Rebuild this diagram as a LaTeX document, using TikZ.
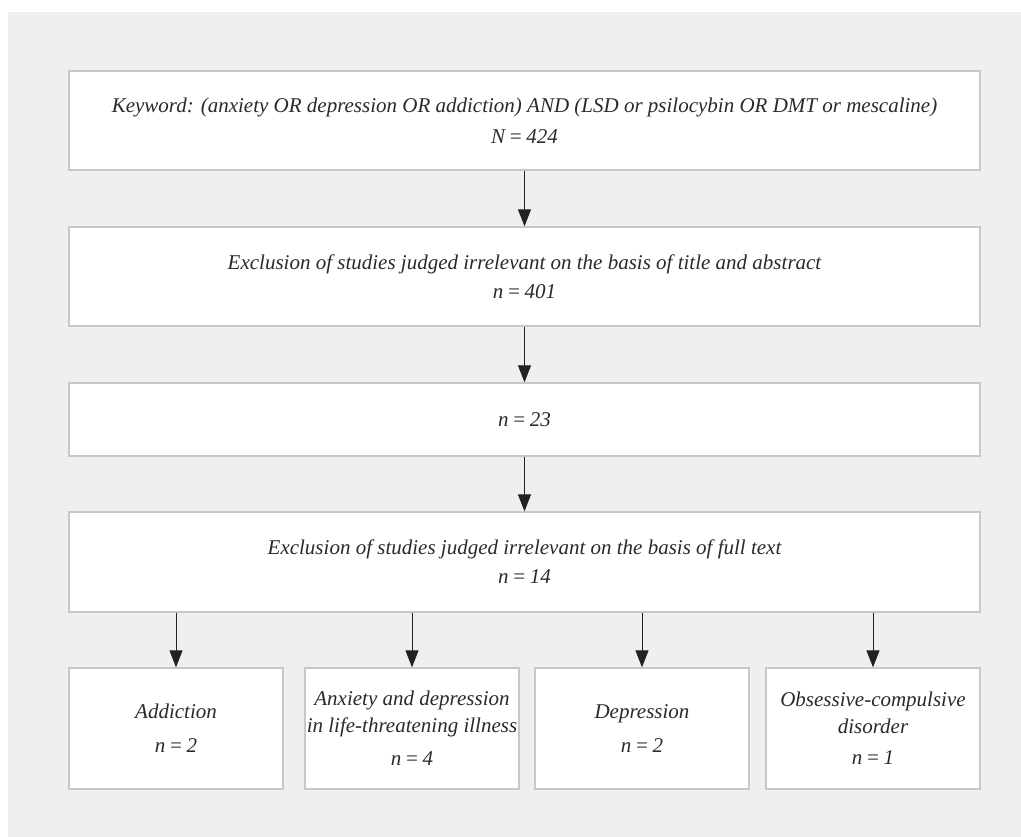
\documentclass[tikz,border=0pt]{standalone}
\usepackage{fontspec}
\setmainfont{Liberation Serif}
\usetikzlibrary{arrows.meta}
\definecolor{bgc}{HTML}{EFEFEF}
\definecolor{bordc}{HTML}{C8C8C8}
\definecolor{txtc}{HTML}{2A2A2A}
\definecolor{arrc}{HTML}{222222}
\tikzset{
  box/.style={draw=bordc, line width=1.3pt, fill=white, rectangle, align=center,
    text=txtc, font=\fontsize{21}{29}\selectfont\itshape, inner sep=0pt},
  wide/.style={box, minimum width=911pt},
  small/.style={box, minimum width=214pt, minimum height=121pt},
  arr/.style={draw=arrc, line width=1pt, -{Triangle[width=13pt,length=17pt]}}
}
\begin{document}
\begin{tikzpicture}[x=1pt,y=-1pt]
\useasboundingbox (0,0) rectangle (1021,837);
\fill[white] (0,0) rectangle (1021,837);
\fill[bgc] (8,12) rectangle (1021,837);
\node[wide, minimum height=99pt] (A) at (524.5,120.5) {Keyword: (anxiety OR depression OR addiction) AND (LSD or psilocybin OR DMT or mescaline)\\[2pt] N\,=\,424};
\node[wide, minimum height=99pt] (B) at (524.5,276.5) {Exclusion of studies judged irrelevant on the basis of title and abstract\\ n\,=\,401};
\node[wide, minimum height=73pt] (C) at (524.5,419.5) {n\,=\,23};
\node[wide, minimum height=100pt] (D) at (524.5,562) {Exclusion of studies judged irrelevant on the basis of full text\\ n\,=\,14};
\node[small] (E1) at (176,728.5) {Addiction\\[5pt] n\,=\,2};
\node[small] (E2) at (412,728.5) {Anxiety and depression\\[-2pt] in life-threatening illness\\[4pt] n\,=\,4};
\node[small] (E3) at (642,728.5) {Depression\\[5pt] n\,=\,2};
\node[small] (E4) at (873,728.5) {Obsessive-compulsive\\[-2pt] disorder\\[2pt] n\,=\,1};
\draw[arr] (A.south) -- (B.north);
\draw[arr] (B.south) -- (C.north);
\draw[arr] (C.south) -- (D.north);
\foreach \n in {E1,E2,E3,E4}{
  \draw[arr] (\n.north |- D.south) -- (\n.north);
}
\end{tikzpicture}
\end{document}
